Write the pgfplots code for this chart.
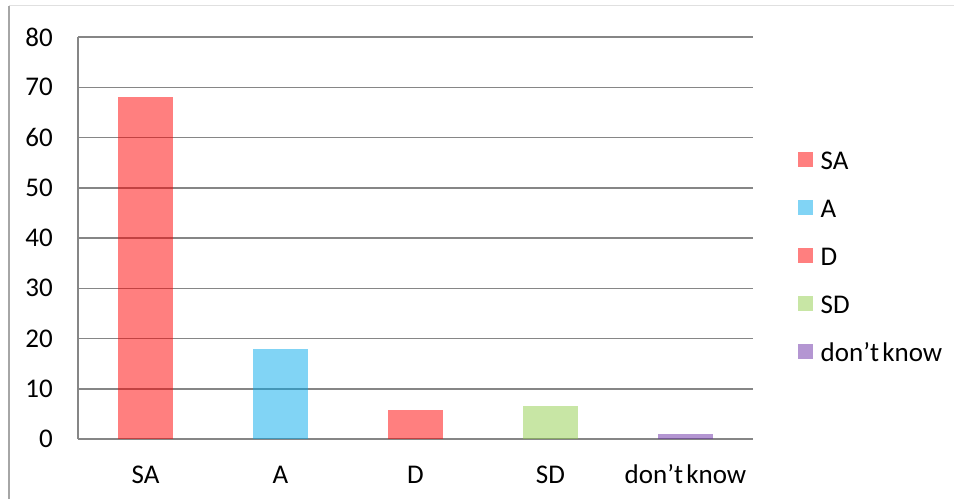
\documentclass[border=0pt]{standalone}
\usepackage{pgfplots}
\pgfplotsset{compat=1.18}
\usepackage{fontspec}
\setmainfont{Carlito}
\definecolor{gridc}{RGB}{134,134,134}
\definecolor{cSA}{RGB}{255,0,0}
\definecolor{cA}{RGB}{3,169,235}
\definecolor{cSD}{RGB}{145,205,75}
\definecolor{cDK}{RGB}{105,45,165}
\begin{document}
\begin{tikzpicture}
\useasboundingbox (0pt,0pt) rectangle (954pt,499pt);
\draw[color=black!35, line width=1.5pt] (9pt,0pt) -- (9pt,493pt);
\draw[color=black!12, line width=1pt] (9pt,493pt) -- (954pt,493pt);
\begin{axis}[
  at={(78pt,60pt)}, anchor=south west,
  scale only axis, width=675pt, height=402pt,
  xmin=-0.5, xmax=4.5, ymin=0, ymax=80,
  ytick={0,10,...,80},
  xtick={0,1,2,3,4},
  xticklabels={SA,A,D,SD,don’t\hspace{0.12em}know},
  axis y line=left, axis x line=bottom,
  axis line style={-, color=gridc, line width=1.5pt},
  ymajorgrids, grid style={color=gridc, line width=1.5pt},
  major tick length=0pt,
  font=\fontsize{27}{31}\selectfont,
  /pgf/number format/assume math mode=true,
  yticklabel style={inner sep=0pt},
  yticklabel shift=25pt,
  xticklabel style={inner sep=0pt, text height=18pt, anchor=north},
  xticklabel shift=26pt,
  legend style={at={(1.0667,0.717)}, anchor=north west, draw=none, fill=none,
    inner sep=0pt, row sep=23pt,
    nodes={inner sep=0pt, text height=19pt, text depth=6pt}},
  legend cell align=left,
  legend image code/.code={\fill[#1] (0pt,-4pt) rectangle (15pt,11pt); \path (22.5pt,0pt);},
  every axis plot/.append style={ybar, bar width=55pt, bar shift=0pt, draw=none, fill opacity=0.5},
]
\addplot[fill=cSA] coordinates {(0,68)};
\addlegendentry{SA}
\addplot[fill=cA] coordinates {(1,18)};
\addlegendentry{A}
\addplot[fill=cSA] coordinates {(2,5.8)};
\addlegendentry{D}
\addplot[fill=cSD] coordinates {(3,6.6)};
\addlegendentry{SD}
\addplot[fill=cDK] coordinates {(4,1)};
\addlegendentry{don’t\hspace{0.12em}know}
\end{axis}
\end{tikzpicture}
\end{document}
